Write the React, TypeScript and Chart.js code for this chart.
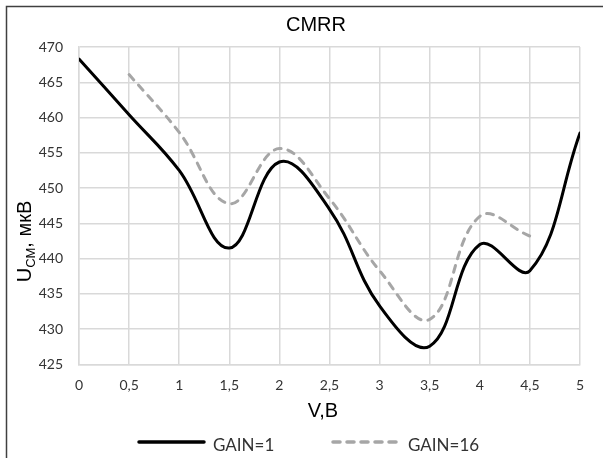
import { useEffect, useRef } from "react";
import { Chart, registerables } from "chart.js";

Chart.register(...registerables);

// ---- data ----
const xValues = [0, 0.5, 1, 1.5, 2, 2.5, 3, 3.5, 4, 4.5, 5];
const gain1 = [468.3, 460.4, 452.5, 441.5, 453.7, 447.0, 433.3, 427.6, 442.0, 438.3, 457.8];
const gain16 = [null, 466.1, 457.9, 447.8, 455.6, 448.5, 438.3, 431.4, 446.0, 443.2, null];
const seriesNames = ["GAIN=1", "GAIN=16"];
const yMin = 425;
const yMax = 470;
const yStep = 5;
const xMin = 0;
const xMax = 5;
const xStep = 0.5;
const chartTitle = "CMRR";
const xTitle = "V,B";
const yTitleMain = "U";
const yTitleSub = "CM";
const yTitleRest = ", мкВ";

const BLACK = "#000000";
const GRAY = "#a6a6a6";
const GRID = "#d9d9d9";
const TEXT = "#333333";
const DASH = [7, 7];

const toPoints = (vals: (number | null)[]) =>
  xValues
    .map((x, i) => ({ x, y: vals[i] }))
    .filter((p) => p.y !== null) as { x: number; y: number }[];

const decor = {
  id: "decor",
  beforeDraw(chart: any) {
    const ctx = chart.ctx as CanvasRenderingContext2D;
    ctx.save();
    ctx.fillStyle = "#ffffff";
    ctx.fillRect(0, 0, chart.width, chart.height);
    ctx.strokeStyle = "#404040";
    ctx.lineWidth = 1.5;
    ctx.beginPath();
    ctx.moveTo(6.5, chart.height);
    ctx.lineTo(6.5, 6.5);
    ctx.lineTo(chart.width, 6.5);
    ctx.stroke();
    ctx.restore();
  },
  afterDraw(chart: any) {
    const ctx = chart.ctx as CanvasRenderingContext2D;
    ctx.save();
    // title
    ctx.fillStyle = "#000000";
    ctx.font = '20px "Liberation Sans", Arial, sans-serif';
    ctx.textAlign = "center";
    ctx.textBaseline = "alphabetic";
    ctx.fillText(chartTitle, 316, 31);

    // x axis title
    ctx.fillStyle = "#000000";
    ctx.font = '20px "Liberation Sans", Arial, sans-serif';
    ctx.fillText(xTitle, 323, 416.5);

    // y axis title with subscript
    const big = '20px "Liberation Sans", Arial, sans-serif';
    const small = '13px "Liberation Sans", Arial, sans-serif';
    ctx.font = big;
    const w1 = ctx.measureText(yTitleMain).width;
    const w3 = ctx.measureText(yTitleRest).width;
    ctx.font = small;
    const w2 = ctx.measureText(yTitleSub).width;
    const total = w1 + w2 + w3;
    ctx.translate(31, 241.5);
    ctx.rotate(-Math.PI / 2);
    ctx.textAlign = "left";
    let u = -total / 2;
    ctx.font = big;
    ctx.fillText(yTitleMain, u, 0);
    u += w1;
    ctx.font = small;
    ctx.fillText(yTitleSub, u, 4);
    u += w2;
    ctx.font = big;
    ctx.fillText(yTitleRest, u, 0);
    ctx.setTransform(1, 0, 0, 1, 0, 0);

    // legend
    const ly = 442;
    ctx.lineCap = "round";
    ctx.lineWidth = 3.5;
    ctx.strokeStyle = BLACK;
    ctx.setLineDash([]);
    ctx.beginPath();
    ctx.moveTo(139, ly);
    ctx.lineTo(204, ly);
    ctx.stroke();
    ctx.strokeStyle = GRAY;
    ctx.setLineDash(DASH);
    ctx.beginPath();
    ctx.moveTo(333, ly);
    ctx.lineTo(401, ly);
    ctx.stroke();
    ctx.setLineDash([]);
    ctx.fillStyle = TEXT;
    ctx.font = '17px Lato, "Liberation Sans", sans-serif';
    ctx.textAlign = "left";
    ctx.textBaseline = "alphabetic";
    ctx.fillText(seriesNames[0], 213, 451);
    ctx.fillText(seriesNames[1], 408, 451);
    ctx.restore();
  },
};

export default function App() {
  const ref = useRef<HTMLCanvasElement | null>(null);
  useEffect(() => {
    if (!ref.current) return;
    const chart = new Chart(ref.current, {
      type: "line",
      data: {
        datasets: [
          {
            label: seriesNames[0],
            data: toPoints(gain1),
            borderColor: BLACK,
            borderWidth: 3,
            pointRadius: 0,
            tension: 0.4,
            borderCapStyle: "round",
            borderJoinStyle: "round",
            fill: false,
          },
          {
            label: seriesNames[1],
            data: toPoints(gain16),
            borderColor: GRAY,
            borderWidth: 3,
            borderDash: DASH,
            pointRadius: 0,
            tension: 0.4,
            borderCapStyle: "round",
            borderJoinStyle: "round",
            fill: false,
          },
        ],
      },
      options: {
        responsive: false,
        animation: false,
        devicePixelRatio: 1,
        layout: { padding: { left: 0, right: 23, top: 47, bottom: 0 } },
        plugins: {
          legend: { display: false },
          title: { display: false },
          tooltip: { enabled: false },
        },
        scales: {
          x: {
            type: "linear",
            min: xMin,
            max: xMax,
            afterFit: (s: any) => {
              s.height = 93.5;
            },
            ticks: {
              stepSize: xStep,
              autoSkip: false,
              maxRotation: 0,
              padding: 12.5,
              color: TEXT,
              font: { family: 'Lato, "Liberation Sans", sans-serif', size: 14 },
              callback: (v: any) => String(v).replace(".", ","),
            },
            grid: { color: GRID, lineWidth: 1.5, drawTicks: false },
            border: { color: GRID, width: 1.5 },
          },
          y: {
            min: yMin,
            max: yMax,
            afterFit: (s: any) => {
              s.width = 79;
            },
            ticks: {
              stepSize: yStep,
              padding: 16,
              color: TEXT,
              font: { family: 'Lato, "Liberation Sans", sans-serif', size: 14 },
            },
            grid: { color: GRID, lineWidth: 1.5, drawTicks: false },
            border: { color: GRID, width: 1.5 },
          },
        },
      },
      plugins: [decor],
    });
    return () => chart.destroy();
  }, []);
  return (
    <div style={{ position: "absolute", left: 0, top: 0, width: 603, height: 458 }}>
      <canvas ref={ref} width={603} height={458} style={{ display: "block" }} />
    </div>
  );
}
